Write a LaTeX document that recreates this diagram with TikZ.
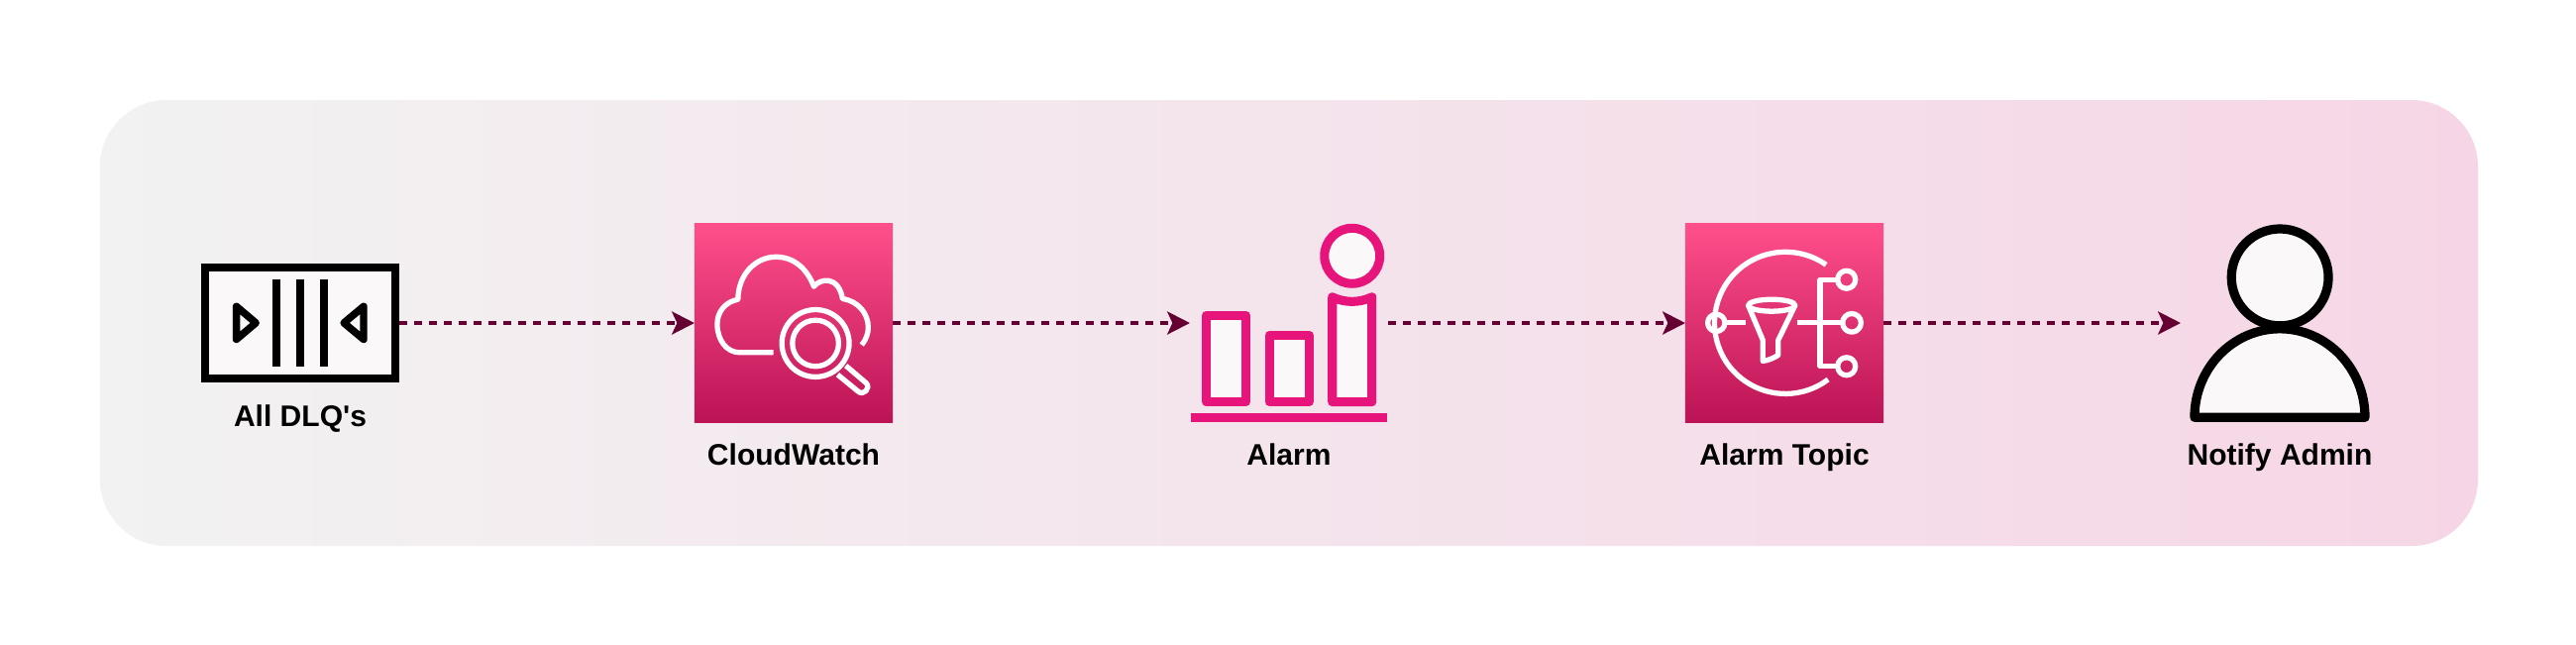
\documentclass[tikz,border=0pt]{standalone}
\usepackage{fontspec}
\newfontfamily\labelfont{Liberation Sans}
\usetikzlibrary{arrows.meta}
\definecolor{bgleft}{HTML}{F2F2F2}
\definecolor{bgright}{HTML}{F6D6E6}
\definecolor{awstop}{HTML}{FF4F8B}
\definecolor{awsbot}{HTML}{BC1356}
\definecolor{awspink}{HTML}{E7157B}
\definecolor{linkc}{HTML}{660033}
\definecolor{softfill}{HTML}{FBF8FA}
\tikzset{
  x=0.01cm,y=-0.01cm,
  zoomed/.style={x=0.0033333cm,y=-0.0033333cm},
  panel/.style={left color=bgleft,right color=bgright,draw=none},
  iconbox/.style={rectangle,inner sep=0pt,outer sep=0pt,minimum width=2cm,minimum height=2cm,draw=none},
  awsbox/.style={iconbox,top color=awstop,bottom color=awsbot},
  wline/.style={draw=white,line width=1.5pt,line join=round,fill=none},
  pline/.style={draw=awspink,line width=2.58pt,line join=round,fill=softfill},
  kline/.style={draw=black,line width=2.1pt,line join=round,fill=none},
  label/.style={anchor=base,font=\labelfont\bfseries\fontsize{8.54pt}{10pt}\selectfont,text=black,inner sep=0pt},
  link/.style={draw=linkc,line width=0.88pt,dash pattern=on 2.2pt off 2.07pt,
    -{Stealth[length=6.5pt,width=6.6pt,inset=1.5pt,fill=linkc]}},
}
\begin{document}
\begin{tikzpicture}
\useasboundingbox (0,0) rectangle (2600,650);
\fill[white] (0,0) rectangle (2600,650);
\path[panel,rounded corners=0.67cm] (101,101) rectangle (2501,551);

% nodes
\node[iconbox,draw=black,line width=2.18pt,fill=softfill,minimum width=1.92cm,minimum height=1.12cm,outer sep=1.09pt] (dlq) at (303,326) {};
\node[awsbox] (cw) at (801,326) {};
\node[iconbox] (alarm) at (1301,326) {};
\node[awsbox] (topic) at (1801,326) {};
\node[iconbox] (admin) at (2301,326) {};

\node[label] (l1) at (303,430) {All DLQ's};
\node[label] (l2) at (801,469) {CloudWatch};
\node[label] (l3) at (1301,469) {Alarm};
\node[label] (l4) at (1801,469) {Alarm Topic};
\node[label] (l5) at (2301,469) {Notify Admin};

% DLQ icon
\begin{scope}[shift={(190,250)},zoomed]
  \draw[kline,line width=2.28pt] (267,96) -- (267,360) (339,96) -- (339,360) (411,96) -- (411,360);
  \draw[kline,line width=2.1pt] (146,178) -- (205,228) -- (146,278) -- cycle;
  \draw[kline,line width=2.1pt] (532,178) -- (472,228) -- (532,278) -- cycle;
\end{scope}

% CloudWatch icon
\begin{scope}[shift={(680,210)},zoomed]
  \draw[wline] (302,438) -- (200,438) .. controls (160,438) and (132,400) .. (132,352)
     .. controls (132,315) and (155,285) .. (195,277)
     .. controls (195,200) and (250,148) .. (310,148)
     .. controls (365,148) and (405,185) .. (425,238)
     .. controls (445,212) and (500,205) .. (512,275)
     .. controls (560,282) and (590,320) .. (590,362)
     .. controls (590,380) and (583,400) .. (570,415);
  \draw[wline] (430,410) circle [radius=102];
  \draw[wline] (430,410) circle [radius=70];
  \draw[wline] (522,478) -- (583,530) .. controls (600,545) and (575,572) .. (558,555) -- (497,505);
\end{scope}

% Alarm icon
\begin{scope}[shift={(1190,210)},zoomed]
  \fill[awspink] (35,622) rectangle (632,648);
  \draw[pline] (83,325) rectangle (203,588);
  \draw[pline] (274,385) rectangle (394,588);
  \draw[pline] (465,270) .. controls (505,288) and (545,288) .. (585,270) -- (585,588) -- (465,588) -- cycle;
  \draw[pline] (525,145) circle [radius=84];
\end{scope}

% Topic icon
\begin{scope}[shift={(1690,210)},zoomed]
  \draw[wline] (460,172) arc [start angle=-55,end angle=-307,radius=215];
  \draw[wline] (127,348) circle [radius=26];
  \draw[wline] (160,348) -- (215,348);
  \draw[wline] (295,295) ellipse [x radius=71,y radius=18];
  \draw[wline] (224,295) -- (268,400) -- (268,464) .. controls (285,462) and (300,455) .. (315,446) -- (315,400) -- (366,295);
  \draw[wline] (373,348) -- (510,348);
  \draw[wline] (495,217) -- (442,217) -- (442,480) -- (495,480);
  \draw[wline] (522,217) circle [radius=27];
  \draw[wline] (538,348) circle [radius=28];
  \draw[wline] (522,480) circle [radius=27];
\end{scope}

% Admin icon
\begin{scope}[shift={(2180,210)},zoomed]
  \draw[draw=black,line width=2.62pt,fill=softfill,line join=round] (364,210) circle [radius=147];
  \draw[draw=black,line width=2.62pt,fill=softfill,line join=round] (105,635) arc [start angle=-180,end angle=0,x radius=258.5,y radius=269] -- cycle;
\end{scope}

% connectors
\draw[link] (dlq.east) -- (cw.west);
\draw[link] (cw.east) -- (alarm.west);
\draw[link] (alarm.east) -- (topic.west);
\draw[link] (topic.east) -- (admin.west);
\end{tikzpicture}
\end{document}
